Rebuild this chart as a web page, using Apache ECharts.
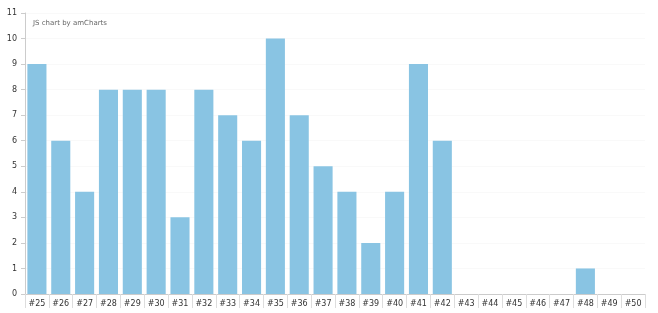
<!DOCTYPE html>
<html><head><meta charset="utf-8">
<script src="https://cdn.jsdelivr.net/npm/echarts@6/dist/echarts.min.js"></script>
<style>html,body{margin:0;padding:0;background:#fff}#c{width:658px;height:313px}</style>
</head><body><div id="c"></div>
<script>
const categories = ['#25','#26','#27','#28','#29','#30','#31','#32','#33','#34','#35','#36','#37','#38','#39','#40','#41','#42','#43','#44','#45','#46','#47','#48','#49','#50'];
const values = [9,6,4,8,8,8,3,8,7,6,10,7,5,4,2,4,9,6,0,0,0,0,0,1,0,0];
const yTicks = [0,1,2,3,4,5,6,7,8,9,10,11];
const chart = echarts.init(document.getElementById('c'));
chart.setOption({
  animation:false,
  title:{text:'JS chart by amCharts',left:28,top:15,textStyle:{fontFamily:'DejaVu Sans',fontSize:7,fontWeight:'normal',color:'#666'}},
  grid:{left:25,right:13,top:13,bottom:19},
  xAxis:{type:'category',data:categories,
    axisLine:{lineStyle:{color:'#ccc'}},
    axisTick:{show:true,length:14,lineStyle:{color:'#ddd'}},
    axisLabel:{fontFamily:'DejaVu Sans',fontSize:8,color:'#333',margin:6}},
  yAxis:{type:'value',min:0,max:11,interval:1,
    axisLine:{show:true,lineStyle:{color:'#ccc'}},
    axisTick:{show:true,length:4,lineStyle:{color:'#ccc'}},
    axisLabel:{fontFamily:'DejaVu Sans',fontSize:8,color:'#333',margin:8,formatter:v=>yTicks.includes(v)?String(v):''},
    splitLine:{show:true,lineStyle:{color:'rgba(0,0,0,0.025)'}}},
  series:[{type:'bar',data:values,barCategoryGap:'20%',itemStyle:{color:'#89c4e3'}}]
});
</script></body></html>
